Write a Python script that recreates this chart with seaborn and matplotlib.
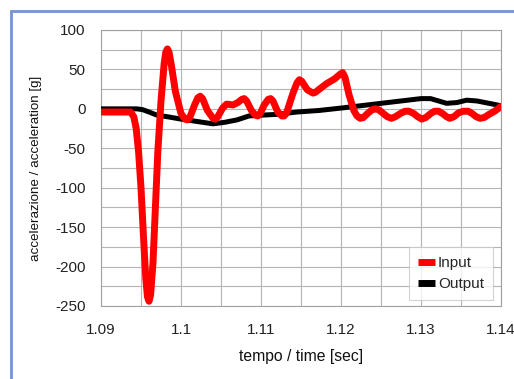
import matplotlib
matplotlib.use("Agg")
import matplotlib.pyplot as plt
import seaborn as sns
import pandas as pd
from matplotlib.ticker import MultipleLocator
from matplotlib.patches import Rectangle
from matplotlib.lines import Line2D

# ---- data ----
input_t = [1.0900, 1.0937, 1.0941, 1.0944, 1.0947, 1.0950, 1.0953, 1.0956, 1.0958,
           1.0960, 1.0962, 1.0965, 1.0968, 1.0971, 1.0975, 1.0979, 1.0981, 1.0983,
           1.0985, 1.0988, 1.0993, 1.1000, 1.1005, 1.1008, 1.1011, 1.1017, 1.1021,
           1.1024, 1.1027, 1.1033, 1.1040, 1.1043, 1.1046, 1.1052, 1.1057, 1.1065,
           1.1071, 1.1076, 1.1079, 1.1082, 1.1088, 1.1093, 1.1096, 1.1099, 1.1104,
           1.1109, 1.1112, 1.1115, 1.1121, 1.1126, 1.1129, 1.1132, 1.1140, 1.1145,
           1.1148, 1.1151, 1.1158, 1.1165, 1.1168, 1.1173, 1.1182, 1.1192, 1.1199,
           1.1202, 1.1205, 1.1210, 1.1216, 1.1220, 1.1224, 1.1228, 1.1233, 1.1239,
           1.1243, 1.1247, 1.1253, 1.1258, 1.1263, 1.1268, 1.1274, 1.1280, 1.1285,
           1.1291, 1.1296, 1.1301, 1.1306, 1.1312, 1.1317, 1.1322, 1.1327, 1.1332,
           1.1336, 1.1341, 1.1347, 1.1353, 1.1359, 1.1364, 1.1369, 1.1374, 1.1379,
           1.1385, 1.1392, 1.1400]
input_v = [-4, -4, -10, -25, -55, -100, -160, -215, -238, -244, -236, -195, -125,
           -55, 10, 58, 72, 76, 72, 55, 22, -6, -13, -14, -11, 5, 14, 16, 13, -2,
           -12, -13, -10, 1, 6, 5, 8, 12, 13, 10, -2, -8, -9, -6, 5, 12, 13, 10, -4,
           -9, -9, -5, 20, 33, 37, 35, 24, 20, 21, 25, 32, 38, 44, 46, 40, 18, -2,
           -9, -12, -11, -6, -1, 0, -1, -6, -10, -12, -10, -6, -3, -3, -6, -10, -13,
           -11, -6, -3, -3, -6, -10, -12, -10, -5, -3, -3, -6, -10, -12, -11, -7,
           -3, 3]

output_t = [1.0900, 1.0945, 1.0952, 1.0960, 1.0970, 1.0983, 1.1000, 1.1020,
            1.1040, 1.1055, 1.1070, 1.1085, 1.1100, 1.1120, 1.1145, 1.1173,
            1.1200, 1.1225, 1.1250, 1.1275, 1.1300, 1.1312, 1.1322, 1.1332,
            1.1345, 1.1357, 1.1370, 1.1385, 1.1400]
output_v = [0, 0, -1, -4, -8, -10, -13, -16, -19, -17, -14, -9, -8, -7, -4, -2,
            1, 4, 7, 10, 13, 13, 10, 7, 8, 11, 10, 7, 4]

series_names = ["Input", "Output"]
colors = ["#ff0000", "#000000"]
x_ticks = [1.09, 1.10, 1.11, 1.12, 1.13, 1.14]
x_tick_labels = ["1.09", "1.1", "1.11", "1.12", "1.13", "1.14"]
y_ticks = [100, 50, 0, -50, -100, -150, -200, -250]

df = pd.concat([
    pd.DataFrame({"t": input_t, "v": input_v, "serie": series_names[0]}),
    pd.DataFrame({"t": output_t, "v": output_v, "serie": series_names[1]}),
])

sns.set_theme(style="white")
plt.rcParams["font.family"] = ["Liberation Sans", "DejaVu Sans"]
plt.rcParams["axes.unicode_minus"] = False

fig = plt.figure(figsize=(5.14, 3.79), dpi=100)
ax = fig.add_axes([101 / 514, 1 - 306 / 379, 400 / 514, 276 / 379])

sns.lineplot(data=df, x="t", y="v", hue="serie", palette=colors,
             sort=False, estimator=None, ax=ax, legend=False)
lws = [5.0, 3.6]
for line, lw in zip(ax.get_lines(), lws):
    line.set_linewidth(lw)
    line.set_solid_joinstyle("round")
    line.set_solid_capstyle("round")
ax.get_lines()[0].set_zorder(4)
ax.get_lines()[1].set_zorder(3)

ax.set_xlim(1.09, 1.14)
ax.set_ylim(-250, 100)
ax.set_xticks(x_ticks)
ax.set_xticklabels(x_tick_labels)
ax.set_yticks(y_ticks)
ax.xaxis.set_minor_locator(MultipleLocator(0.005))
ax.yaxis.set_minor_locator(MultipleLocator(25))
ax.grid(True, which="both", color="#b4b4b4", linewidth=0.8)
ax.set_axisbelow(True)
for sp in ax.spines.values():
    sp.set_color("#a0a0a0")
    sp.set_linewidth(0.8)
ax.tick_params(axis="both", which="both", direction="out", color="#a0a0a0",
               width=0.8, labelsize=11, labelcolor="#222222")
ax.tick_params(axis="both", which="minor", length=0)
ax.tick_params(axis="y", which="major", length=3, pad=8)
ax.tick_params(axis="x", which="major", length=4, pad=8)

ax.set_xlabel("tempo / time [sec]", fontsize=11.3, color="#111111", labelpad=9)
ax.set_ylabel("accelerazione / acceleration [g]", fontsize=9.6, color="#111111",
              labelpad=9.5)

handles = [Line2D([0], [0], color=colors[0], lw=5, solid_capstyle="butt"),
           Line2D([0], [0], color=colors[1], lw=5, solid_capstyle="butt")]
leg = ax.legend(handles, series_names, loc="lower right",
                bbox_to_anchor=(0.98, 0.02), fontsize=11, frameon=True,
                fancybox=False, handlelength=1.1, handletextpad=0.2,
                borderpad=0.6, labelspacing=0.45, borderaxespad=0.0)
leg.get_frame().set_edgecolor("#c8c8c8")
leg.get_frame().set_linewidth(0.8)
leg.set_zorder(6)

fig.patches.append(Rectangle((11 / 514, -0.05), 1.2, 1 - 11 / 379 + 0.05,
                             transform=fig.transFigure, fill=False,
                             edgecolor="#7393d3", linewidth=2.0))

fig.savefig("out.png", dpi=100)
